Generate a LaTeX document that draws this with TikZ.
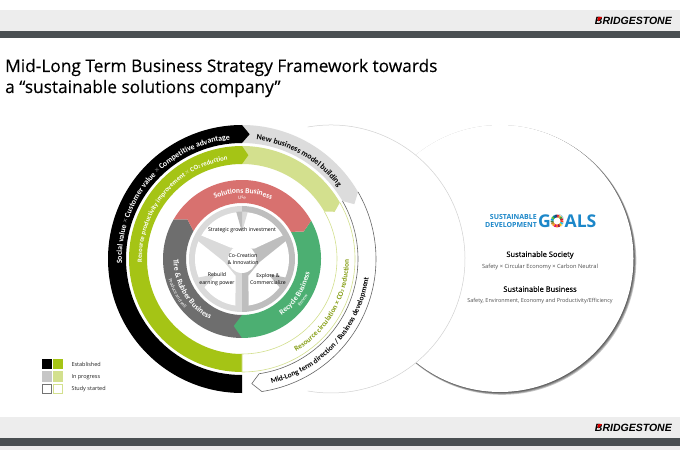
\documentclass[tikz,border=0pt]{standalone}
\usepackage{fontspec}
\usepackage{xcolor}
\usepackage{tikz}
\usetikzlibrary{calc,decorations.text}
\setmainfont{Open Sans}
\newfontfamily\logofont{Liberation Sans}
\newfontfamily\titlefont[FakeBold=0.25]{Open Sans}
\newfontfamily\arcfont{Carlito}
\definecolor{blackband}{HTML}{000000}
\definecolor{greyband}{HTML}{DCDCDC}
\definecolor{lime}{HTML}{A5C415}
\definecolor{palelime}{HTML}{D3E08E}
\definecolor{redband}{HTML}{D8716F}
\definecolor{tireband}{HTML}{6E6E6E}
\definecolor{recycle}{HTML}{4CAF72}
\definecolor{wheelL}{HTML}{DADADA}
\definecolor{wheelR}{HTML}{BEBEBE}
\definecolor{headbar}{HTML}{EDEDED}
\definecolor{darkbar}{HTML}{4A4F52}
\definecolor{muted}{HTML}{8A8A8A}
\definecolor{inktext}{HTML}{222222}
\definecolor{sdgblue}{HTML}{1C87C9}
\tikzset{
  outline/.style={draw=#1, line width=0.6pt},
  legbox/.style={draw=none, minimum size=10pt, inner sep=0pt, outer sep=0pt},
  legtxt/.style={anchor=west, font=\fontsize{5.5}{6}\selectfont, text=inktext},
  wheeltxt/.style={align=center, font=\fontsize{5.2}{7.5}\selectfont, text=black},
  headtxt/.style={font=\titlefont\fontsize{7.5}{9}\selectfont, text=black},
  subtxt/.style={font=\fontsize{#1}{6}\selectfont, text=inktext!80},
  titletxt/.style={anchor=base west, inner sep=0pt, font=\titlefont\fontsize{17.3}{20}\selectfont, text=black},
  logotxt/.style={anchor=east, inner sep=0pt, font=\logofont\bfseries\itshape\fontsize{10.5}{11}\selectfont, text=black}
}
% ring piece: colour, r in, r out, start, end, notch, tip
\newcommand{\ringseg}[7]{
  \pgfmathsetmacro\rmid{(#2+#3)/2}
  \fill[#1] (#4:#3) arc[start angle=#4,end angle=#5,radius=#3] -- ({#5-#7}:\rmid) -- (#5:#2)
    arc[start angle=#5,end angle=#4,radius=#2] -- ({#4-#6}:\rmid) -- cycle;
}
% text on a circle: radius, start, end, format, text
\newcommand{\arctext}[5]{
  \path[decorate,decoration={text along path,text align=center,text={|#4|#5}}]
    (#2:#1) arc[start angle=#2,end angle=#3,radius=#1];
}
\newcommand{\bslogo}[3]{
  \node[logotxt] (#1) at (#2,#3) {BRIDGESTONE};
  \fill[red!85!black] ($(#1.west)+(3.2,4)$) -- ++(4.2,0) -- ++(-3.8,-4.4) -- ++(-0.8,2) -- cycle;
}
\newcommand{\wb}[1]{\color{white}\arcfont\bfseries\fontsize{#1}{9}\selectfont}
\newcommand{\wn}[1]{\color{white}\arcfont\fontsize{#1}{9}\selectfont}
\newcommand{\xg}[1]{\color{#1}\arcfont\mdseries\fontsize{8}{9}\selectfont}

\begin{document}
\begin{tikzpicture}[x=1pt,y=1pt]
  \useasboundingbox (0,0) rectangle (680,450);
  \fill[white] (0,0) rectangle (680,450);

  % top and bottom bars
  \fill[headbar] (0,419) rectangle (680,440);
  \fill[darkbar] (0,412) rectangle (680,419);
  \fill[headbar] (0,12) rectangle (680,33);
  \fill[darkbar] (0,4) rectangle (680,12);
  \fill[headbar] (0,0) rectangle (680,4);
  \bslogo{logotop}{672}{429}
  \bslogo{logobot}{672}{22}

  \node[titletxt] (title1) at (5,378) {Mid-Long Term Business Strategy Framework towards};
  \node[titletxt] (title2) at (5,357) {a “sustainable solutions company”};

  % back circles
  \foreach \i in {0,0.5,1,1.5,2}
    \fill[black,opacity=0.22] ({500+\i},{191.5-\i}) circle[radius=133.5+0.4*\i];
  \fill[white] (500,191.5) circle[radius=133.5];
  \fill[white] (331,191) circle[radius=134];
  \draw[black!18,line width=0.5pt] (331,191) ++(100:134) arc[start angle=100,end angle=-100,radius=134];

  \begin{scope}[shift={(242,191)}]
    % outer bands
    \ringseg{greyband}{116}{134}{90}{30}{0}{4}
    \ringseg{blackband}{116}{134}{270}{90}{0}{3.5}
    \ringseg{palelime}{95}{113}{90}{30}{0}{3}
    \ringseg{lime}{95}{113}{270}{90}{0}{3.5}

    % study started outlines
    \draw[outline=black!60] (30:134) arc[start angle=30,end angle=-81.5,radius=134] -- (-85.5:125)
      -- (-81.5:116) arc[start angle=-81.5,end angle=30,radius=116];
    \draw[outline=palelime] (30:113) arc[start angle=30,end angle=-90,radius=113] -- (-90:95)
      arc[start angle=-90,end angle=30,radius=95];

    % inner bands
    \ringseg{tireband}{56}{79}{270}{150}{0}{6}
    \ringseg{recycle}{56}{79}{29}{-90}{5}{7}
    \ringseg{redband}{56}{79}{150}{29}{6}{5}

    % wheel
    \fill[wheelL] (0,-53) arc[start angle=-90,end angle=-270,radius=53] -- cycle;
    \fill[wheelR] (0,53) arc[start angle=90,end angle=-90,radius=53] -- cycle;
    \fill[white] (150:47) arc[start angle=150,end angle=30,radius=47] -- (40:16) -- (135:16) -- cycle;
    \fill[white] (158:47) arc[start angle=158,end angle=262,radius=47] -- (249:18) -- (190:18) -- cycle;
    \fill[white] (22:47) arc[start angle=22,end angle=-82,radius=47] -- (-69:18) -- (-10:18) -- cycle;
    \fill[wheelL] (83:47.5) -- (90:27) -- (90:47.5) -- cycle;
    \fill[wheelR] (97:47.5) -- (90:27) -- (90:47.5) -- cycle;
    \fill[wheelL] (203:47.5) -- (210:30) -- (217:47.5) -- cycle;
    \fill[wheelR] (-37:47.5) -- (-30:30) -- (-23:47.5) -- cycle;
    \fill[white] (0,0) circle[radius=14];

    % band labels
    \arctext{120}{199}{79}{\wb{7.9}}{Social value |\xg{muted}|×|\wb{7.9}| Customer value |\xg{muted}|×|\wb{7.9}| Competitive advantage}
    \arctext{100}{200}{80}{\wb{6.7}}{Resource productivity improvement |\xg{palelime}|×|\wb{6.7}| CO|\wb{4}|2|\wb{6.7}| reduction}
    \arctext{120}{95}{25}{\color{black}\arcfont\bfseries\fontsize{8}{9}\selectfont}{New business model building}
    \arctext{66}{129}{49}{\wb{7.6}}{Solutions Business}
    \arctext{60}{110}{70}{\wn{5}}{Use}
    \arctext{68.5}{161}{261}{\wb{7.7}}{Tire {\&} Rubber Business}
    \arctext{76}{178}{238}{\wn{5}}{Produce and sell}
    \arctext{69}{-73}{7}{\wb{7.6}}{Recycle Business}
    \arctext{75}{-54}{-14}{\wn{5}}{Renew}
    \arctext{107}{-75}{15}{\color{lime!80!black}\arcfont\bfseries\fontsize{7.3}{8}\selectfont}{Resource circulation × CO|\color{lime!80!black}\arcfont\bfseries\fontsize{4.4}{8}\selectfont|2|\color{lime!80!black}\arcfont\bfseries\fontsize{7.3}{8}\selectfont| reduction}
    \arctext{128}{-92}{7}{\color{black}\arcfont\bfseries\fontsize{7.5}{8}\selectfont}{Mid-Long term direction / Business development}
  \end{scope}

  % wheel labels
  \node[wheeltxt] (strategic) at (242,220) {Strategic growth investment};
  \node[wheeltxt] (cocreate) at (243,191) {Co-Creation\\\& Innovation};
  \node[wheeltxt] (rebuild) at (217,171) {Rebuild\\earning power};
  \node[wheeltxt] (explore) at (268,171) {Explore \&\\Commercialize};

  % right circle
  \node[align=right,inner sep=0pt,anchor=east,text=sdgblue,font=\bfseries\fontsize{7}{7.4}\selectfont] (sdgwords) at (537,229) {SUSTAINABLE\\DEVELOPMENT};
  \node[inner sep=0pt,anchor=west,text=sdgblue,font=\bfseries\fontsize{17.6}{18}\selectfont] (goals) at (538,229) {GOALS};
  \fill[white] (557,229) circle[radius=7];
  \foreach \c [count=\n from 0] in {E5243B,DDA63A,4C9F38,C5192D,FF3A21,26BDE2,FCC30B,A21942,FD6925,DD1367,FD9D24,BF8B2E,3F7E44,0A97D9,56C02B,00689D,19486A}
    {\definecolor{ringcol}{HTML}{\c}
     \draw[ringcol,line width=2.8pt] (557,229) ++({90-\n*21.18}:5) arc[start angle={90-\n*21.18},end angle={90-(\n+1)*21.18},radius=5];}
  \node[headtxt] (society) at (540,195) {Sustainable Society};
  \node[subtxt=5.7] (societysub) at (540,183) {Safety × Circular Economy × Carbon Neutral};
  \node[headtxt] (business) at (540,161) {Sustainable Business};
  \node[subtxt=5.45] (businesssub) at (540,149) {Safety, Environment, Economy and Productivity/Efficiency};

  % legend
  \node[legbox,fill=black] (est1) at (47,86) {};
  \node[legbox,fill=lime] (est2) at (58,86) {};
  \node[legbox,fill=greyband!90!black] (prog1) at (47,73.5) {};
  \node[legbox,fill=palelime] (prog2) at (58,73.5) {};
  \node[legbox,draw=black!55,line width=0.6pt,minimum size=9.4pt] (stud1) at (47,61) {};
  \node[legbox,draw=palelime,line width=0.6pt,minimum size=9.4pt] (stud2) at (58,61) {};
  \node[legtxt] (estlab) at (68,86) {Established};
  \node[legtxt] (proglab) at (68,73) {In progress};
  \node[legtxt] (studlab) at (68,61) {Study started};
\end{tikzpicture}
\end{document}
